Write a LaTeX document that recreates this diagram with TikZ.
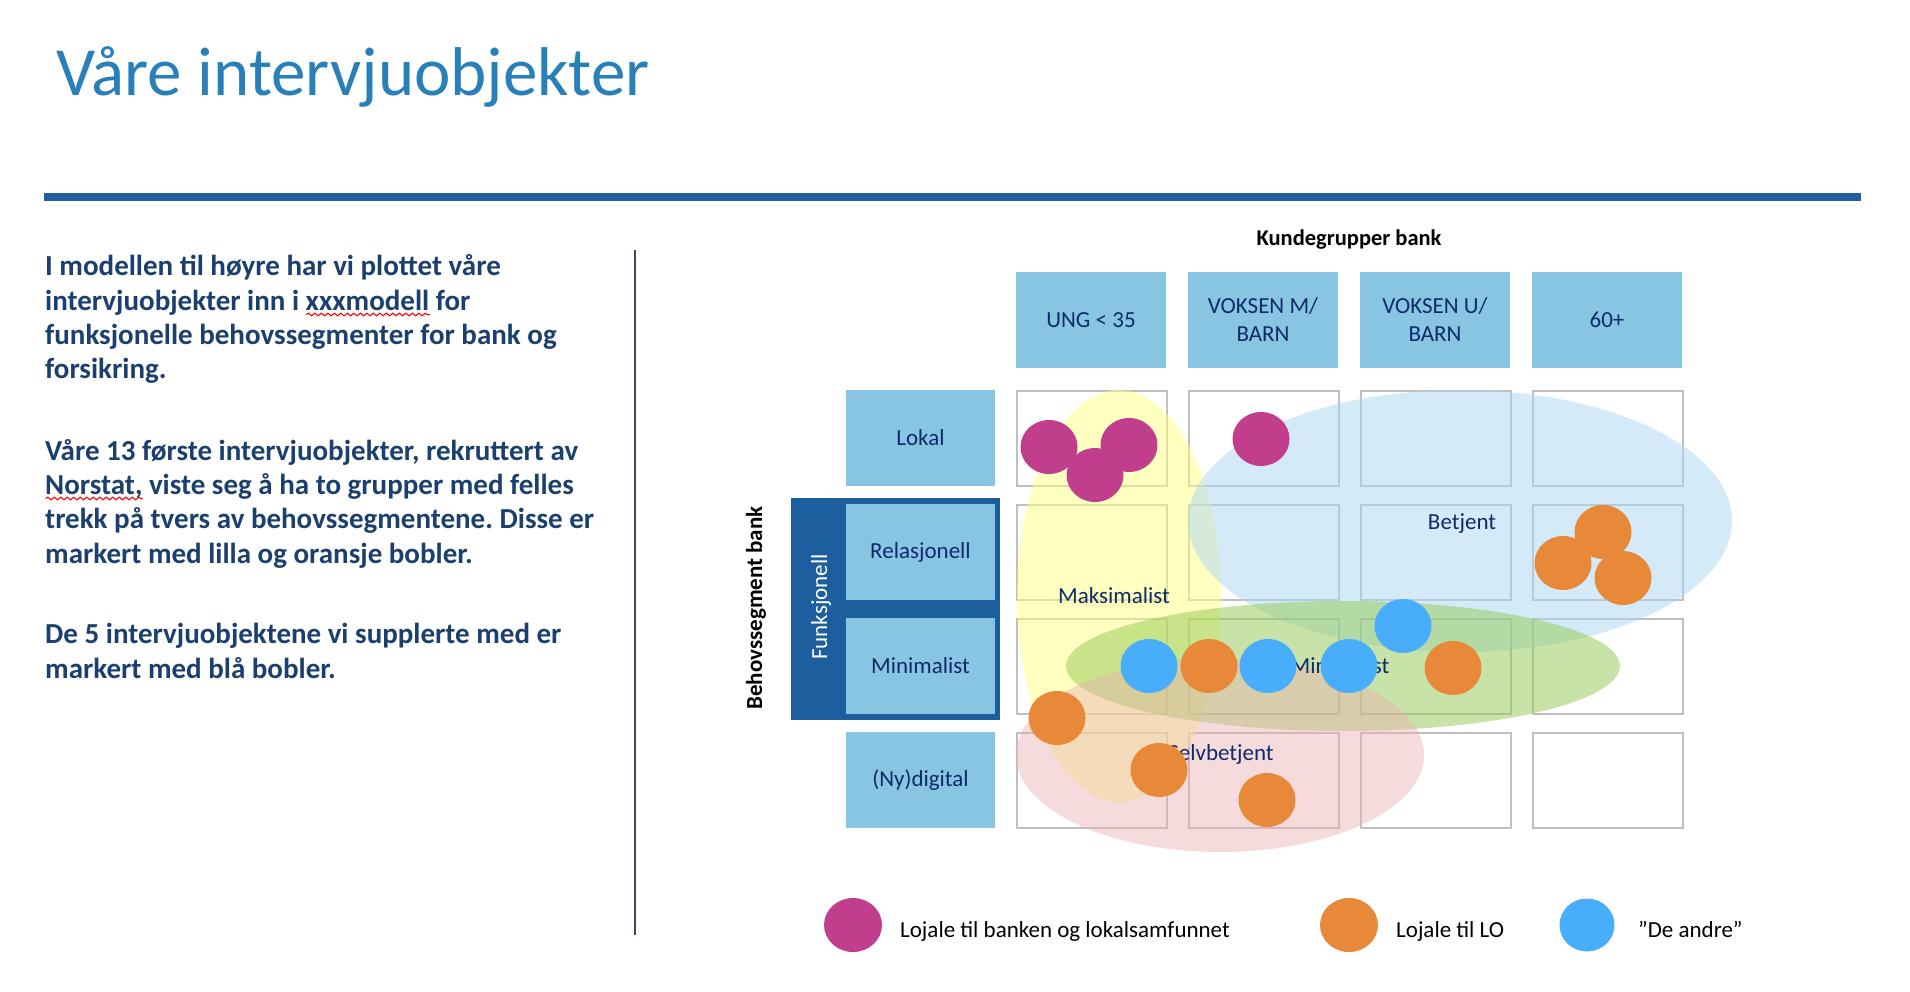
\documentclass[tikz,border=0pt]{standalone}
\usepackage{fontspec}
\setmainfont{Carlito}
\frenchspacing
\usetikzlibrary{shapes.geometric,decorations.pathmorphing}
\definecolor{titleblue}{HTML}{2980B9}
\definecolor{barblue}{HTML}{1F5F9F}
\definecolor{bodyblue}{HTML}{1B3F6E}
\definecolor{navy}{HTML}{0F2A6B}
\definecolor{hdrblue}{HTML}{88C5E2}
\definecolor{darkblue}{HTML}{1C5E9E}
\definecolor{gridgray}{HTML}{BFBFBF}
\definecolor{sepcol}{HTML}{3A4A60}
\definecolor{ylwbase}{HTML}{FFFF81}
\definecolor{bluebase}{HTML}{ADD7F5}
\definecolor{greenbase}{HTML}{93C953}
\definecolor{pinkbase}{HTML}{EBB1B3}
\definecolor{mag}{HTML}{C13E8C}
\definecolor{org}{HTML}{E8893A}
\definecolor{sky}{HTML}{48ADFA}
\newsavebox\spellbox
\newcommand\spell[1]{\sbox\spellbox{#1}\rlap{\tikz[baseline=0pt]{\draw[red,line width=1.1pt,decorate,decoration={snake,amplitude=1.3pt,segment length=6.5pt}] (0pt,-4.5pt) -- (\wd\spellbox,-4.5pt);}}#1}
\begin{document}
\begin{tikzpicture}[x=1pt,y=-1pt,
  titletext/.style={anchor=base west,inner sep=0,text=titleblue,font=\fontsize{69}{83}\selectfont},
  body/.style={anchor=base west,inner sep=0,text=bodyblue,font=\bfseries\fontsize{29}{34}\selectfont},
  hdr/.style={rectangle,fill=hdrblue,minimum width=150,minimum height=96,inner sep=0,align=center,text=navy,font=\fontsize{23}{28}\selectfont},
  rowlab/.style={rectangle,fill=hdrblue,minimum width=149,minimum height=96,inner sep=0,text=navy,font=\fontsize{23}{28}\selectfont},
  cell/.style={rectangle,draw=gridgray,line width=2.2pt,fill=white,minimum width=150,minimum height=95,inner sep=0},
  elab/.style={anchor=base,inner sep=0,text=navy,font=\fontsize{23}{28}\selectfont},
  bub/.style={ellipse,minimum width=57,minimum height=54,inner sep=0},
  legtext/.style={anchor=base west,inner sep=0,text=black,font=\fontsize{23}{28}\selectfont},
  blob/.style={fill opacity=0.5}]
\useasboundingbox (0,0) rectangle (1910,992);
\fill[white] (0,0) rectangle (1910,992);
% title and bar
\node[titletext] (title) at (56,96) {Våre intervjuobjekter};
\fill[barblue] (44,193) rectangle (1861,201);
% separator
\draw[sepcol,line width=2pt] (635,250) -- (635,935);
% body text
\node[body] (l1) at (45,275) {I modellen til høyre har vi plottet våre};
\node[body] (l2) at (45,310) {intervjuobjekter inn i \spell{xxxmodell} for};
\node[body] (l3) at (45,344) {funksjonelle behovssegmenter for bank og};
\node[body] (l4) at (45,378) {forsikring.};
\node[body] (l5) at (45,460) {Våre 13 første intervjuobjekter, rekruttert av};
\node[body] (l6) at (45,494) {\spell{Norstat,} viste seg å ha to grupper med felles};
\node[body] (l7) at (45,528) {trekk på tvers av behovssegmentene. Disse er};
\node[body] (l8) at (45,563) {markert med lilla og oransje bobler.};
\node[body] (l9) at (45,643) {De 5 intervjuobjektene vi supplerte med er};
\node[body] (l10) at (45,678) {markert med blå bobler.};
% column title
\node[anchor=base,inner sep=0,font=\bfseries\fontsize{22.5}{27}\selectfont] (kb) at (1349,246) {Kundegrupper bank};
% column headers
\node[hdr] (h1) at (1091,320) {UNG < 35};
\node[hdr] (h2) at (1263,320) {VOKSEN M/\\BARN};
\node[hdr] (h3) at (1435,320) {VOKSEN U/\\BARN};
\node[hdr] (h4) at (1607,320) {60+};
% funksjonell box
\node[rectangle,fill=darkblue,minimum width=209,minimum height=222,inner sep=0] (fk) at (895,608.5) {};
\node[rotate=90,anchor=base,inner sep=0,text=white,font=\fontsize{23}{28}\selectfont] (fkt) at (827,607) {Funksjonell};
\node[rotate=90,anchor=base,inner sep=0,text=black,font=\bfseries\fontsize{23}{28}\selectfont] (beh) at (762,608) {Behovssegment bank};
% row labels
\node[rowlab] (r1) at (920.5,438) {Lokal};
\node[rowlab] (r2) at (920.5,552) {Relasjonell};
\node[rowlab] (r3) at (920.5,666) {Minimalist};
\node[rowlab] (r4) at (920.5,780) {(Ny)digital};
% grid
\foreach \i/\x in {1/1092,2/1264,3/1436,4/1608}{
  \foreach \j/\y in {1/438.5,2/552.5,3/666.5,4/780.5}{
    \node[cell] (c\i\j) at (\x,\y) {};
  }
}
% segment ellipses
\fill[ylwbase,blob] (1119,596) ellipse [x radius=102pt, y radius=206pt];
\fill[bluebase,blob] (1460,521) ellipse [x radius=272pt, y radius=131pt];
\fill[greenbase,blob] (1343,666) ellipse [x radius=277pt, y radius=65pt];
\fill[pinkbase,fill opacity=0.45] (1220,755) ellipse [x radius=204pt, y radius=97pt];
% segment labels
\node[elab] (emax) at (1114,603) {Maksimalist};
\node[elab] (ebet) at (1462,529) {Betjent};
\node[elab] (emin) at (1340,673) {Minimalist};
\node[elab] (esel) at (1221,760) {Selvbetjent};
% bubbles
\node[bub,fill=mag] (m1) at (1049,447) {};
\node[bub,fill=mag] (m2) at (1129,445) {};
\node[bub,fill=mag] (m3) at (1095,475) {};
\node[bub,fill=mag] (m4) at (1261,439) {};
\node[bub,fill=org] (o1) at (1603,532) {};
\node[bub,fill=org] (o2) at (1563,563) {};
\node[bub,fill=org] (o3) at (1623,578) {};
\node[bub,fill=org] (o4) at (1209,666) {};
\node[bub,fill=org] (o5) at (1453,668) {};
\node[bub,fill=org] (o6) at (1057,718) {};
\node[bub,fill=org] (o7) at (1159,770) {};
\node[bub,fill=org] (o8) at (1267,800) {};
\node[bub,fill=sky] (b1) at (1149,666) {};
\node[bub,fill=sky] (b2) at (1268,666) {};
\node[bub,fill=sky] (b3) at (1349,666) {};
\node[bub,fill=sky] (b4) at (1403,626) {};
% legend
\node[bub,fill=mag,minimum width=58] (lm) at (853,925) {};
\node[legtext] (lmt) at (900,937) {Lojale til banken og lokalsamfunnet};
\node[bub,fill=org,minimum width=58] (lo) at (1349,925) {};
\node[legtext] (lot) at (1396,937) {Lojale til LO};
\node[bub,fill=sky,minimum width=55,minimum height=53] (lb) at (1587,925) {};
\node[legtext] (lbt) at (1638,937) {”De andre”};
\end{tikzpicture}
\end{document}
